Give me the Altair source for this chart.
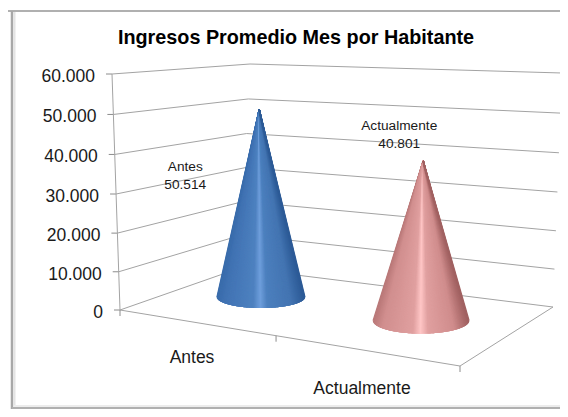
import altair as alt
import pandas as pd

categories = ["Antes", "Actualmente"]
values = [50514, 40801]
value_labels = ["50.514", "40.801"]
tick_values = [0, 10000, 20000, 30000, 40000, 50000, 60000]
tick_labels = ["0", "10.000", "20.000", "30.000", "40.000", "50.000", "60.000"]
z_max = 60000

# 3D box corners in picture units: (u, v, z) -> front/back, left/right, floor/ceiling
CORNERS = {
    (0, 0, 0): (120, 310), (1, 0, 0): (460, 366), (1, 1, 0): (553, 307), (0, 1, 0): (240, 268),
    (0, 0, 1): (112, 74), (1, 0, 1): (448, 108), (1, 1, 1): (562, 73), (0, 1, 1): (250, 64),
}


def project(u, v, value):
    z = value / z_max
    z = z - 0.034 * z * (1 - z)
    px = py = 0.0
    for (a, b, c), (x, y) in CORNERS.items():
        w = (u if a else 1 - u) * (v if b else 1 - v) * (z if c else 1 - z)
        px += w * x
        py += w * y
    return px, py


GRID = "#a3a3a3"
lines = []


def seg(p, q, color=GRID, w=1.0):
    lines.append({"x": p[0], "y": p[1], "x2": q[0], "y2": q[1], "c": color, "w": w})


# gridlines on the two walls, ticks on the value axis
for t in tick_values:
    a, b, c = project(0, 0, t), project(0, 1, t), project(1, 1, t)
    seg(a, b)
    seg(b, c)
    seg((a[0] - 6, a[1]), a, "#8c8c8c")
# vertical value axis and floor
seg(project(0, 0, 0), project(0, 0, z_max))
seg(project(0, 0, 0), project(1, 0, 0))
seg(project(1, 0, 0), project(1, 1, 0))
# category ticks
for u in [0, 0.459, 1]:
    p = project(u, 0, 0)
    seg(p, (p[0], p[1] + 6), "#8c8c8c")

# frame (the bottom edge sits at the last row the page can show without growing)
FRAME = [
    ((8, 11), (560, 11), "#b0b0b0", 2), ((12, 11), (12, 409), "#a8a8a8", 2.5),
    ((14.5, 12), (14.5, 406), "#e4e4e4", 2), ((12, 408), (560, 408), "#b0b0b0", 2),
    ((14, 406), (560, 406), "#ececec", 2),
]
for p, q, c, w in FRAME:
    seg(p, q, c, w)

lines_df = pd.DataFrame(lines)


def hex2rgb(h):
    return [int(h[i:i + 2], 16) for i in (1, 3, 5)]


def ramp(stops, t):
    for (t0, c0), (t1, c1) in zip(stops, stops[1:]):
        if t <= t1:
            f = (t - t0) / (t1 - t0)
            a, b = hex2rgb(c0), hex2rgb(c1)
            return "#%02x%02x%02x" % tuple(round(a[i] + f * (b[i] - a[i])) for i in range(3))
    return stops[-1][1]


BLUE = [(0, "#3a6cab"), (0.12, "#4375b5"), (0.42, "#4f82c0"), (0.5, "#6f9fdc"), (0.58, "#4d80be"),
        (0.85, "#4475b2"), (1, "#2c5a96")]
PINK = [(0, "#b97878"), (0.1, "#d18f8f"), (0.42, "#e0a0a0"), (0.5, "#ffc6c6"), (0.58, "#e0a0a0"),
        (0.85, "#d08d8d"), (1, "#a06060")]
# u, v, radius x, radius y, apex lean, colours
CONES = [(0.227, 0.56, 44, 11, -3, BLUE), (0.723, 0.55, 48, 13, 2, PINK)]

fan = []
N = 320
apexes = []
for val, (u, v, rx, ry, lean, stops) in zip(values, CONES):
    cx, cy = project(u, v, 0)
    ax, ay = project(u, v, val)
    ax += lean
    apexes.append((ax, ay))
    for i in range(N + 1):
        t = i / N
        s = 2 * t - 1
        fan.append({"x": ax, "y": ay, "x2": cx + rx * s, "y2": cy + ry * (1 - s * s) ** 0.5,
                    "c": ramp(stops, t)})
fan_df = pd.DataFrame(fan)

# texts
texts = []
for t, s in zip(tick_values, tick_labels):
    p = project(0, 0, t)
    texts.append({"x": p[0] - 17, "y": p[1] + 3, "t": s, "align": "right"})
for u, s, dx, dy in [(0.25, categories[0], -13, 34), (0.75, categories[1], -13, 37)]:
    p = project(u, 0, 0)
    texts.append({"x": p[0] + dx, "y": p[1] + dy, "t": s, "align": "center"})
text_df = pd.DataFrame(texts)

X = alt.X("x:Q", scale=alt.Scale(domain=[8, 560], nice=False, zero=False), axis=None)
Y = alt.Y("y:Q", scale=alt.Scale(domain=[409, 8], nice=False, zero=False), axis=None)

grid_layer = alt.Chart(lines_df).mark_rule().encode(
    x=X, y=Y, x2="x2:Q", y2="y2:Q",
    color=alt.Color("c:N", scale=None),
    strokeWidth=alt.StrokeWidth("w:Q", scale=None),
)
cone_layer = alt.Chart(fan_df).mark_rule(strokeWidth=1.3).encode(
    x=X, y=Y, x2="x2:Q", y2="y2:Q", color=alt.Color("c:N", scale=None),
)
text_layer = alt.Chart(text_df[text_df["align"] == "right"]).mark_text(
    font="Liberation Sans", fontSize=17.5, align="right", baseline="middle", color="#1a1a1a"
).encode(x=X, y=Y, text="t:N")
cat_layer = alt.Chart(text_df[text_df["align"] == "center"]).mark_text(
    font="Liberation Sans", fontSize=17.5, align="center", baseline="middle", color="#1a1a1a"
).encode(x=X, y=Y, text="t:N")

title_df = pd.DataFrame({"x": [296], "y": [37.5], "t": ["Ingresos Promedio Mes por Habitante"]})
title_layer = alt.Chart(title_df).mark_text(
    font="Liberation Sans", fontSize=19.8, fontWeight="bold", align="center", baseline="middle", color="#000000"
).encode(x=X, y=Y, text="t:N")

lab_rows = []
for lab_cat, lab, (ax, ay), (dx, dy) in zip(categories, value_labels, apexes, [(-74, 58), (-24, -35)]):
    lab_rows.append({"x": ax + dx, "y": ay + dy, "t": lab_cat})
    lab_rows.append({"x": ax + dx, "y": ay + dy + 18, "t": lab})
label_layer = alt.Chart(pd.DataFrame(lab_rows)).mark_text(
    font="Liberation Sans", fontSize=13.7, align="center", baseline="middle", color="#1a1a1a"
).encode(x=X, y=Y, text="t:N")

chart = alt.layer(grid_layer, cone_layer, text_layer, cat_layer, title_layer, label_layer).properties(
    width=552, height=401, padding=0, autosize=alt.AutoSizeParams(type="none"),
    background="#ffffff",
).configure_view(strokeWidth=0)

chart.save("out.html", embed_options={"renderer": "svg", "actions": False})
